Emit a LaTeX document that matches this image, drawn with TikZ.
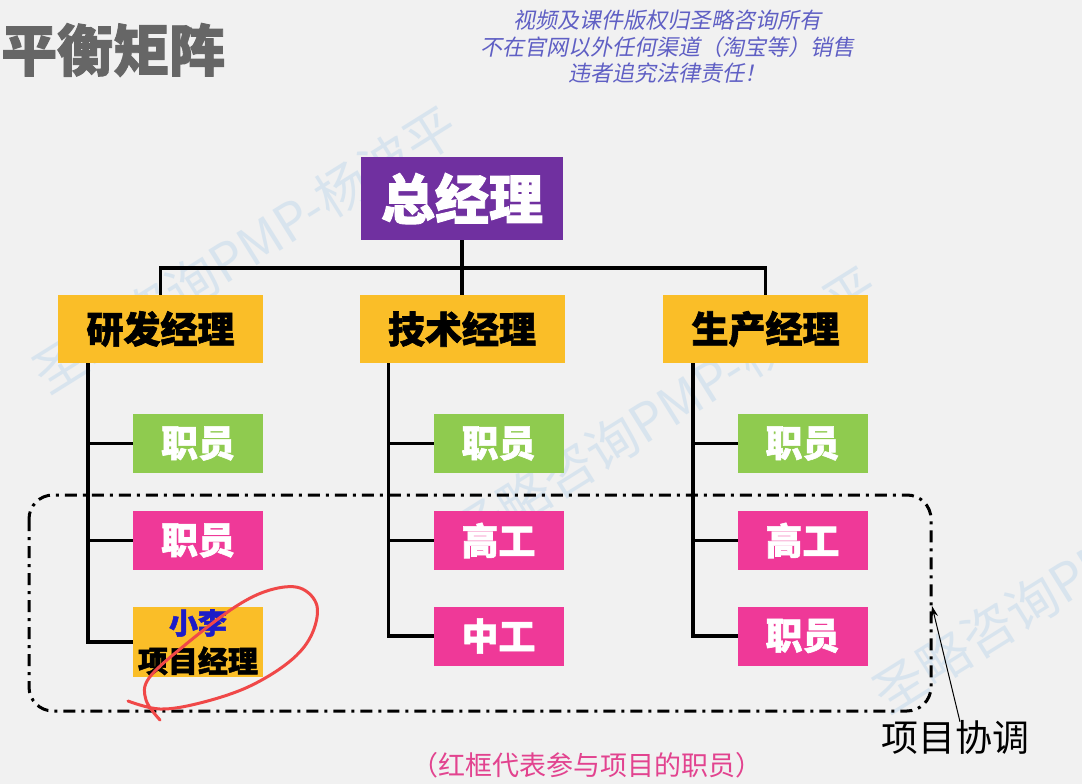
\documentclass[tikz,border=0pt]{standalone}
\usepackage{fontspec}
\setmainfont{Noto Sans CJK SC}
\newfontfamily\cjkslant[FakeSlant=0.2]{Noto Sans CJK SC}
\newfontfamily\heavy[FakeBold=1.6]{Noto Sans CJK SC}
\usetikzlibrary{arrows.meta}
\definecolor{bgc}{HTML}{F1F1F1}
\definecolor{gmpurple}{HTML}{7030A0}
\definecolor{mgrorange}{HTML}{FABE28}
\definecolor{stgreen}{HTML}{8FCB4F}
\definecolor{stpink}{HTML}{EF3998}
\definecolor{titlegray}{HTML}{666666}
\definecolor{notecolor}{HTML}{5F5FC4}
\definecolor{redpen}{HTML}{F04848}
\definecolor{bluename}{HTML}{1C1CC8}
\definecolor{capcolor}{HTML}{E2438F}
\definecolor{wmark}{HTML}{C5DAEC}
\tikzset{
  box/.style={inner sep=0pt, outer sep=0pt, align=center},
  gmbox/.style={box, fill=gmpurple, minimum width=202pt, minimum height=83pt, text=white, font=\heavy\bfseries\fontsize{54}{60}\selectfont},
  mgrbox/.style={box, fill=mgrorange, minimum width=205pt, minimum height=68pt, text=black, font=\heavy\bfseries\fontsize{37}{40}\selectfont},
  staffbox/.style={box, minimum width=130pt, minimum height=59pt, text=white, font=\heavy\bfseries\fontsize{37}{40}\selectfont},
  greenbox/.style={staffbox, fill=stgreen},
  pinkbox/.style={staffbox, fill=stpink},
  conn/.style={draw=black, line width=3.3pt},
  teamframe/.style={draw=black, line width=3pt, rounded corners=24pt, dash pattern=on 12pt off 6pt on 3pt off 6pt},
  wm/.style={text=wmark, opacity=0.55, rotate=32, font=\fontsize{52}{60}\selectfont},
}
\begin{document}
\begin{tikzpicture}[x=1pt,y=-1pt]
\useasboundingbox (0,0) rectangle (1082,784);
\fill[bgc] (0,0) rectangle (1082,784);

% watermarks
\node[wm] (wm1) at (245,250) {圣略咨询PMP-杨波平};
\node[wm] (wm2) at (665,410) {圣略咨询PMP-杨波平};
\node[wm] (wm3) at (1085,570) {圣略咨询PMP-杨波平};

% title and notes
\node[anchor=west, text=titlegray, font=\heavy\bfseries\fontsize{56}{60}\selectfont, inner sep=0pt] (title) at (1,50) {平衡矩阵};
\node[align=center, text=notecolor, font=\cjkslant\fontsize{22}{26.5}\selectfont, inner sep=0pt] (note) at (667,47)
  {视频及课件版权归圣略咨询所有\\不在官网以外任何渠道（淘宝等）销售\\违者追究法律责任！};

% project team frame
\draw[teamframe] (29,495) rectangle (931,711);

% boxes
\node[gmbox] (gm) at (462,198.5) {总经理};
\node[mgrbox] (m1) at (160.5,329) {研发经理};
\node[mgrbox] (m2) at (462,329) {技术经理};
\node[mgrbox] (m3) at (765.5,329) {生产经理};

\node[greenbox] (s11) at (198,443.5) {职员};
\node[pinkbox]  (s12) at (198,540.5) {职员};
\node[box, fill=mgrorange, minimum width=130pt, minimum height=70pt] (s13) at (198,642) {};
\node[text=bluename, font=\heavy\bfseries\fontsize{29}{32}\selectfont, inner sep=0pt] (s13a) at (198,623) {小李};
\node[text=black, font=\heavy\bfseries\fontsize{30}{32}\selectfont, inner sep=0pt] (s13b) at (198,661) {项目经理};

\node[greenbox] (s21) at (498.5,443.5) {职员};
\node[pinkbox]  (s22) at (498.5,540.5) {高工};
\node[pinkbox]  (s23) at (498.5,636) {中工};

\node[greenbox] (s31) at (802.5,443.5) {职员};
\node[pinkbox]  (s32) at (802.5,540.5) {高工};
\node[pinkbox]  (s33) at (802.5,636) {职员};

% connectors
\coordinate (bar) at (462,268);
\draw[conn] (gm.south) -- (m2.north);
\draw[conn] (bar) -| (m1.north);
\draw[conn] (bar) -| (m3.north);
\draw[conn] ([xshift=30pt]m1.south west) |- (s11.west);
\draw[conn] ([xshift=30pt]m1.south west) |- (s12.west);
\draw[conn] ([xshift=30pt]m1.south west) |- (s13.west);
\draw[conn] ([xshift=29pt]m2.south west) |- (s21.west);
\draw[conn] ([xshift=29pt]m2.south west) |- (s22.west);
\draw[conn] ([xshift=29pt]m2.south west) |- (s23.west);
\draw[conn] ([xshift=30pt]m3.south west) |- (s31.west);
\draw[conn] ([xshift=30pt]m3.south west) |- (s32.west);
\draw[conn] ([xshift=30pt]m3.south west) |- (s33.west);

% red hand-drawn loop
\draw[redpen, line width=3pt, line cap=round, line join=round]
  plot[smooth, tension=0.6] coordinates {(160,720) (146,700) (149,678) (185,645) (235,607) (270,590) (300,588) (317,606) (311,636) (289,662) (248,687) (200,703) (160,709) (128,701)};

% project coordination label
\node[font=\fontsize{37}{40}\selectfont, inner sep=0pt] (coord) at (955,737) {项目协调};
\coordinate (tip) at (932,606);
\draw[line width=1pt, -{Stealth[length=11pt,width=7pt]}] ([xshift=5pt,yshift=-2pt]coord.north) -- (tip);

% caption
\node[text=capcolor, font=\fontsize{27}{30}\selectfont, inner sep=0pt] (cap) at (587,765) {（红框代表参与项目的职员）};
\end{tikzpicture}
\end{document}
